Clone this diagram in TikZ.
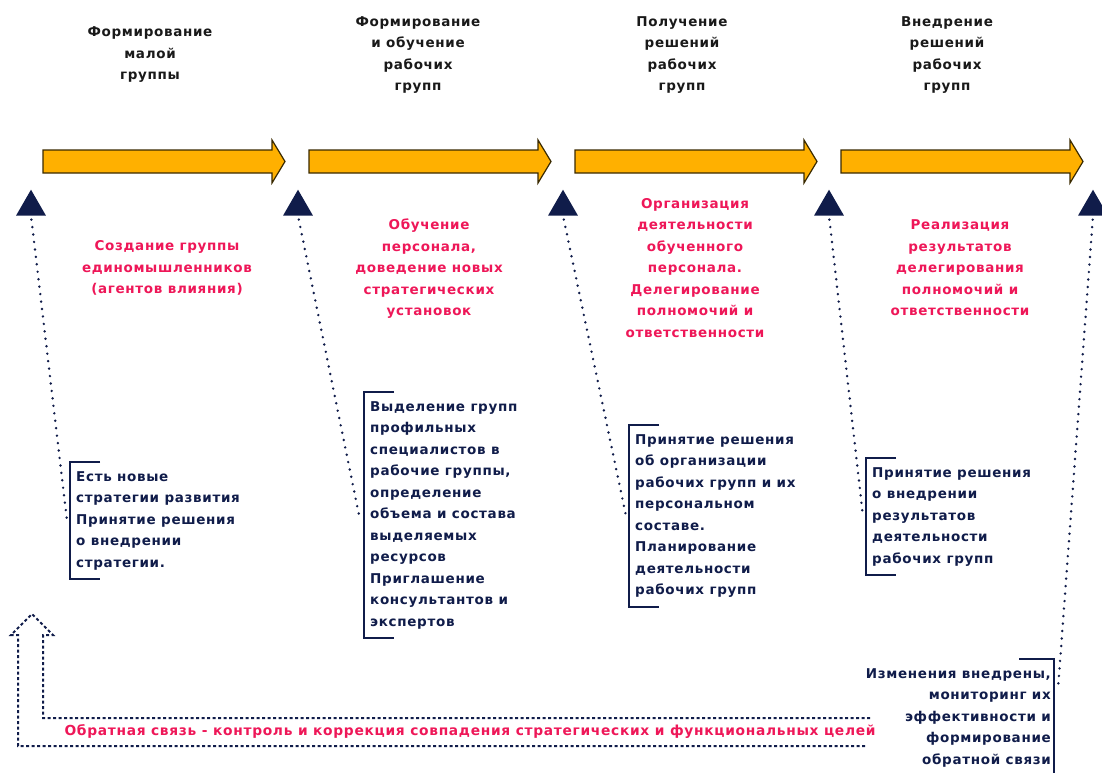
\documentclass[tikz,border=0pt]{standalone}
\usepackage{fontspec}
\setmainfont{DejaVu Sans}[LetterSpace=5]
\usetikzlibrary{shapes.geometric}

\definecolor{navy}{HTML}{101C4A}
\definecolor{crimson}{HTML}{EE1758}
\definecolor{amber}{HTML}{FFB000}
\definecolor{amberline}{HTML}{3A2A00}
\newcommand\stagefont{\bfseries\fontsize{13.5}{21.5}\selectfont}

\begin{document}
\begin{tikzpicture}[x=1pt, y=-1pt,
  stagetitle/.style={align=center, font=\stagefont, text=black!90},
  stagegoal/.style={align=center, font=\stagefont, text=crimson},
  decision/.style={align=left, anchor=north west, inner xsep=6pt, inner ysep=9pt, font=\stagefont, text=navy},
  marker/.style={regular polygon, regular polygon sides=3, minimum size=34.6pt, inner sep=0pt, outer sep=0pt, fill=navy},
  link/.style={navy, line width=2.7pt, line cap=round, dash pattern=on 0pt off 7.5pt, shorten <=4pt},
  bracket/.style={navy, line width=1.8pt},
  feedback/.style={navy, line width=2pt, dash pattern=on 3pt off 2.5pt}]

\useasboundingbox (0,0) rectangle (1102,773);

% stage arrows along the top
\foreach \x in {43,309,575,841}
  \draw[amberline, fill=amber, line width=1.2pt] (\x,150) -- (\x+229,150) -- (\x+229,140) -- (\x+242,161.5) -- (\x+229,183) -- (\x+229,173) -- (\x,173) -- cycle;

% stage titles
\node (title1) [stagetitle] at (150,55) {Формирование\\малой\\группы};
\node (title2) [stagetitle] at (418,55) {Формирование\\и обучение\\рабочих\\групп};
\node (title3) [stagetitle] at (682,55) {Получение\\решений\\рабочих\\групп};
\node (title4) [stagetitle] at (947,55) {Внедрение\\решений\\рабочих\\групп};

% milestone markers
\node (mark1) [marker] at (31,207) {};
\node (mark2) [marker] at (298,207) {};
\node (mark3) [marker] at (563,207) {};
\node (mark4) [marker] at (829,207) {};
\node (mark5) [marker] at (1093,207) {};

% goals of each stage
\node (goal1) [stagegoal] at (167,268) {Создание группы\\единомышленников\\(агентов влияния)};
\node (goal2) [stagegoal] at (429,269) {Обучение\\персонала,\\доведение новых\\стратегических\\установок};
\node (goal3) [stagegoal] at (695,268) {Организация\\деятельности\\обученного\\персонала.\\Делегирование\\полномочий и\\ответственности};
\node (goal4) [stagegoal] at (960,268) {Реализация\\результатов\\делегирования\\полномочий и\\ответственности};

% decisions in brackets
\node (dec1) [decision] at (70,462) {Есть новые\\стратегии развития\\Принятие решения\\о внедрении\\стратегии.};
\node (dec2) [decision] at (364,392) {Выделение групп\\профильных\\специалистов в\\рабочие группы,\\определение\\объема и состава\\выделяемых\\ресурсов\\Приглашение\\консультантов и\\экспертов};
\node (dec3) [decision] at (629,425) {Принятие решения\\об организации\\рабочих групп и их\\персональном\\составе.\\Планирование\\деятельности\\рабочих групп};
\node (dec4) [decision] at (866,458) {Принятие решения\\о внедрении\\результатов\\деятельности\\рабочих групп};
\node (dec5) [decision, align=right, anchor=north east, inner xsep=3pt] at (1054,659) {Изменения внедрены,\\мониторинг их\\эффективности и\\формирование\\обратной связи};

\foreach \n in {1,...,4}
  \draw[bracket] ([xshift=30pt]dec\n.north west) -| (dec\n.south west) -- ++(30,0);
\draw[bracket] ([xshift=-35pt]dec5.north east) -| (dec5.south east);

% dotted links from markers
\draw[link] (mark1.south) -- ([xshift=-3pt]dec1.west);
\draw[link] (mark2.south) -- ([xshift=-5pt]dec2.west);
\draw[link] (mark3.south) -- ([xshift=-3pt]dec3.west);
\draw[link] (mark4.south) -- ([xshift=-3pt]dec4.west);
\draw[link] (mark5.south) -- ([xshift=4pt,yshift=-30pt]dec5.north east);

% feedback arrow
\draw[feedback] (870,718) -- (43,718) -- (43,635) -- (53,635) -- (32,614) -- (11,635) -- (18,635) -- (18,746) -- (866,746);
\node (fbtext) [font=\bfseries\fontsize{13.8}{17}\selectfont, text=crimson] at (470,732) {Обратная связь - контроль и коррекция совпадения стратегических и функциональных целей};
\end{tikzpicture}
\end{document}
